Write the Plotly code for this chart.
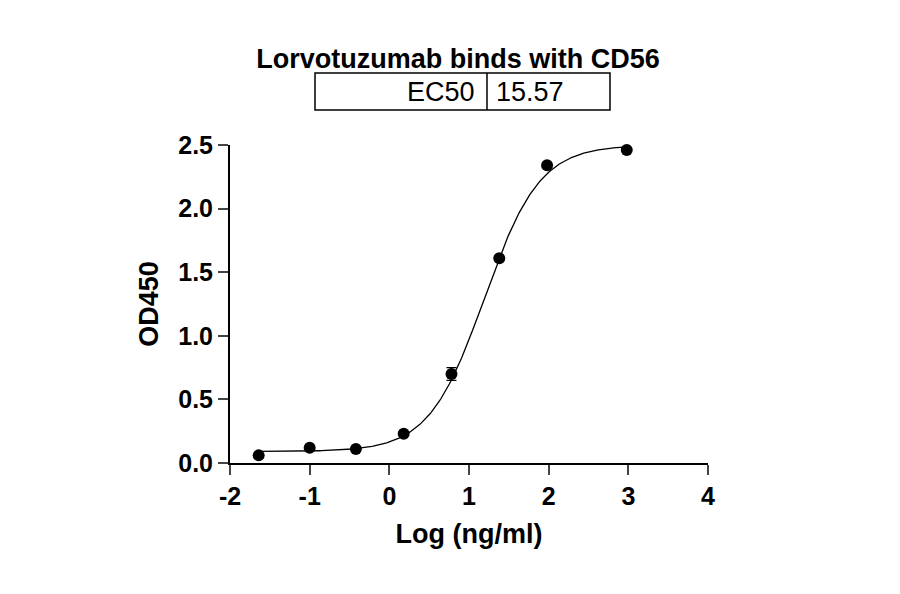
import numpy as np
import plotly.graph_objects as go

log_conc = [-1.64, -1.0, -0.42, 0.18, 0.78, 1.38, 1.98, 2.98]
od450 = [0.06, 0.12, 0.11, 0.23, 0.70, 1.61, 2.34, 2.46]
od_err = [0.0, 0.0, 0.0, 0.0, 0.05, 0.0, 0.0, 0.0]
bottom, top, ec50, hill = 0.09, 2.50, 15.57, 1.25
x_ticks = [-2, -1, 0, 1, 2, 3, 4]
y_ticks = [0.0, 0.5, 1.0, 1.5, 2.0, 2.5]

xc = np.linspace(min(log_conc), max(log_conc), 300)
yc = bottom + (top - bottom) / (1 + 10 ** ((np.log10(ec50) - xc) * hill))

F = "Liberation Sans, Arial, sans-serif"
fig = go.Figure()
fig.add_trace(go.Scatter(x=xc, y=yc, mode="lines", line=dict(color="black", width=1.3), showlegend=False))
fig.add_trace(go.Scatter(x=log_conc, y=od450, mode="markers",
                         marker=dict(color="black", size=12),
                         error_y=dict(type="data", array=od_err, color="black", thickness=1.3, width=5),
                         showlegend=False))
fig.update_layout(
    width=900, height=594, plot_bgcolor="white", paper_bgcolor="white",
    margin=dict(l=222, r=200, t=137, b=139),
    font=dict(family=F, color="black"),
    title=dict(text="<b>Lorvotuzumab binds with CD56</b>", x=0.5, xanchor="center", y=0.93,
               font=dict(size=27, family=F)),
    xaxis=dict(range=[-2, 4], tickvals=x_ticks, ticktext=[f"<b>{v}</b>" for v in x_ticks],
               showline=True, linecolor="black", linewidth=2, ticks="outside", ticklen=10, tickwidth=2,
               showgrid=False, zeroline=False, tickfont=dict(size=25),
               title=dict(text="<b>Log (ng/ml)</b>", font=dict(size=27), standoff=15)),
    yaxis=dict(range=[0, 2.5], tickvals=y_ticks, ticktext=[f"<b>{v:.1f}</b>" for v in y_ticks],
               showline=True, linecolor="black", linewidth=2, ticks="outside", ticklen=10, tickwidth=2,
               showgrid=False, zeroline=False, tickfont=dict(size=25),
               title=dict(text="<b>OD450</b>", font=dict(size=27), standoff=12)),
)
fig.update_traces(cliponaxis=False)
x0, x1, x2 = (315 - 230) / 478, (487 - 230) / 478, (610 - 230) / 478
y0, y1 = (463 - 110) / 318, (463 - 73) / 318
fig.add_shape(type="rect", xref="paper", yref="paper", x0=x0, x1=x2, y0=y0, y1=y1,
              line=dict(color="black", width=1.5))
fig.add_shape(type="line", xref="paper", yref="paper", x0=x1, x1=x1, y0=y0, y1=y1,
              line=dict(color="black", width=1.5))
fig.add_annotation(xref="paper", yref="paper", x=x1 - 0.02, y=(y0 + y1) / 2, text="EC50",
                   showarrow=False, xanchor="right", yanchor="middle", font=dict(size=27, family=F))
fig.add_annotation(xref="paper", yref="paper", x=x1 + 0.015, y=(y0 + y1) / 2, text=f"{ec50:.2f}",
                   showarrow=False, xanchor="left", yanchor="middle", font=dict(size=27, family=F))
fig.write_html("out.html")
